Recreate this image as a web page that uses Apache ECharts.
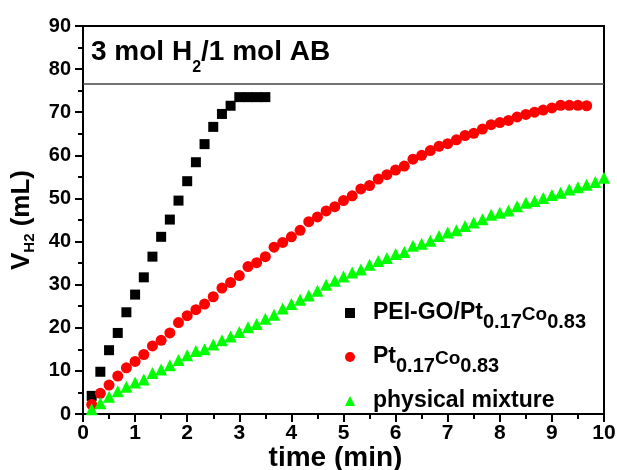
<!DOCTYPE html>
<html>
<head>
<meta charset="utf-8">
<script src="https://cdn.jsdelivr.net/npm/echarts@6/dist/echarts.min.js"></script>
<style>
  html, body { margin: 0; padding: 0; background: #ffffff; }
  #chart { width: 617px; height: 470px; }
</style>
</head>
<body>
<div id="chart"></div>
<script>
// Hydrogen evolution from ammonia borane: time in minutes, one reading every 10 s
const timeMin = [
  0.167, 0.333, 0.5, 0.667, 0.833, 1.0, 1.167, 1.333, 1.5, 1.667,
  1.833, 2.0, 2.167, 2.333, 2.5, 2.667, 2.833, 3.0, 3.167, 3.333,
  3.5, 3.667, 3.833, 4.0, 4.167, 4.333, 4.5, 4.667, 4.833, 5.0,
  5.167, 5.333, 5.5, 5.667, 5.833, 6.0, 6.167, 6.333, 6.5, 6.667,
  6.833, 7.0, 7.167, 7.333, 7.5, 7.667, 7.833, 8.0, 8.167, 8.333,
  8.5, 8.667, 8.833, 9.0, 9.167, 9.333, 9.5, 9.667, 9.833, 10.0
];

// Gas volume (mL) for PEI-GO/Pt0.17Co0.83
const peiGoVolume = [
  4.2, 9.8, 14.8, 18.8, 23.6, 27.7, 31.7, 36.5, 41.1, 45.1,
  49.5, 54.0, 58.4, 62.6, 66.6, 69.6, 71.5, 73.5, 73.5, 73.5,
  73.5
];

// Gas volume (mL) for unsupported Pt0.17Co0.83
const ptCoVolume = [
  2.2, 4.8, 6.7, 8.8, 10.7, 12.2, 13.8, 15.8, 17.1, 18.8,
  21.2, 22.8, 24.2, 25.5, 27.2, 29.2, 30.5, 32.1, 34.2, 35.1,
  36.5, 38.7, 39.8, 41.1, 42.6, 44.6, 45.7, 47.1, 48.1, 49.5,
  50.6, 52.2, 53.0, 54.5, 55.5, 56.6, 57.5, 59.1, 60.0, 61.1,
  62.1, 62.7, 63.6, 64.6, 65.1, 66.1, 67.1, 67.6, 68.1, 68.9,
  69.5, 70.0, 70.5, 71.0, 71.6, 71.6, 71.6, 71.5
];

// Gas volume (mL) for the physical mixture
const mixtureVolume = [
  1.1, 2.5, 4.0, 5.3, 6.3, 7.3, 8.0, 9.5, 10.3, 11.3,
  12.5, 13.6, 14.6, 15.0, 16.1, 17.1, 18.0, 19.0, 20.1, 20.9,
  22.1, 23.0, 24.5, 25.5, 26.5, 27.5, 28.6, 30.0, 30.9, 31.9,
  32.8, 33.5, 34.6, 35.5, 36.2, 37.1, 37.6, 39.0, 39.5, 40.2,
  41.3, 42.1, 42.6, 43.6, 44.4, 45.2, 46.2, 46.7, 47.2, 48.2,
  49.0, 49.4, 50.1, 50.8, 51.3, 52.1, 52.6, 53.2, 53.8, 54.8
];

// Theoretical volume for 3 mol H2 per mol AB (mL)
const theoreticalVolume = 76.5;

const seriesNames = ['PEI-GO/Pt0.17Co0.83', 'Pt0.17Co0.83', 'physical mixture'];
const legendRich = {
  'PEI-GO/Pt0.17Co0.83': '{g| }{b|PEI-GO/Pt}{s|0.17}{c|Co}{s|0.83}',
  'Pt0.17Co0.83': '{g| }{b|Pt}{s|0.17}{c|Co}{s|0.83}',
  'physical mixture': '{g| }{b|physical mixture}'
};

const FONT = 'Liberation Sans, Arial, sans-serif';
const pairs = (xs, ys) => ys.map((v, i) => [xs[i], v]);

const chart = echarts.init(document.getElementById('chart'), null, { renderer: 'canvas' });

chart.setOption({
  animation: false,
  backgroundColor: '#ffffff',
  grid: {
    left: 83, right: 13, top: 26, bottom: 56,
    outerBoundsMode: 'none',
    show: true, borderColor: '#000', borderWidth: 2, backgroundColor: 'transparent'
  },
  xAxis: {
    type: 'value', min: 0, max: 10, interval: 1,
    name: 'time (min)', nameLocation: 'middle', nameGap: 30, nameMoveOverlap: false,
    nameTextStyle: { fontFamily: FONT, fontWeight: 'bold', fontSize: 28, color: '#000', padding: [0, 16, 0, 0] },
    axisLine: { lineStyle: { color: '#000', width: 2 } },
    axisTick: { show: true, inside: false, length: 8, lineStyle: { color: '#000', width: 2 } },
    minorTick: { show: true, splitNumber: 2, length: 5, lineStyle: { color: '#000', width: 2 } },
    axisLabel: { fontFamily: FONT, fontWeight: 'bold', fontSize: 21, color: '#000', margin: 9 },
    splitLine: { show: false }
  },
  yAxis: {
    type: 'value', min: 0, max: 90, interval: 10,
    name: '{v|V}{h|H2}{v| (mL)}', nameLocation: 'middle', nameGap: 44, nameMoveOverlap: false,
    nameTextStyle: {
      fontFamily: FONT, fontWeight: 'bold', fontSize: 26, color: '#000',
      rich: {
        v: { fontFamily: FONT, fontWeight: 'bold', fontSize: 26, color: '#000', lineHeight: 30, verticalAlign: 'top' },
        h: { fontFamily: FONT, fontWeight: 'bold', fontSize: 15, color: '#000', lineHeight: 15, verticalAlign: 'top', padding: [13, 0, 0, 0] }
      }
    },
    axisLine: { lineStyle: { color: '#000', width: 2 } },
    axisTick: { show: true, inside: false, length: 8, lineStyle: { color: '#000', width: 2 } },
    minorTick: { show: true, splitNumber: 2, length: 5, lineStyle: { color: '#000', width: 2 } },
    axisLabel: { fontFamily: FONT, fontWeight: 'bold', fontSize: 20, color: '#000', margin: 12 },
    splitLine: { show: false }
  },
  legend: {
    orient: 'vertical', left: 340, top: 290, itemGap: 7,
    itemWidth: 10, itemHeight: 10,
    data: [
      { name: seriesNames[0], icon: 'rect' },
      { name: seriesNames[1], icon: 'circle' },
      { name: seriesNames[2], icon: 'triangle' }
    ],
    formatter: name => legendRich[name],
    textStyle: {
      fontFamily: FONT, fontWeight: 'bold', fontSize: 23, color: '#000',
      rich: {
        g: { width: 13, lineHeight: 36, verticalAlign: 'top' },
        b: { fontFamily: FONT, fontWeight: 'bold', fontSize: 23, color: '#000', lineHeight: 24, verticalAlign: 'top', padding: [6, 0, 6, 0] },
        s: { fontFamily: FONT, fontWeight: 'bold', fontSize: 20, color: '#000', lineHeight: 19, verticalAlign: 'top', padding: [17, 0, 0, 0] },
        c: { fontFamily: FONT, fontWeight: 'bold', fontSize: 19, color: '#000', lineHeight: 18, verticalAlign: 'top', padding: [10, 0, 8, 0] }
      }
    }
  },
  graphic: [{
    type: 'text', left: 91, top: 38, z: 10,
    style: {
      text: '{m|3 mol H}{s|2}{m|/1 mol AB}',
      rich: {
        m: { fontFamily: FONT, fontWeight: 'bold', fontSize: 28, fill: '#000', lineHeight: 30, verticalAlign: 'top' },
        s: { fontFamily: FONT, fontWeight: 'bold', fontSize: 16, fill: '#000', lineHeight: 16, verticalAlign: 'top', padding: [22, 0, 0, 0] }
      }
    }
  }],
  series: [
    {
      name: seriesNames[0], type: 'scatter', symbol: 'rect', symbolSize: 10,
      itemStyle: { color: '#000000', opacity: 1 },
      data: pairs(timeMin, peiGoVolume),
      markLine: {
        silent: true, symbol: 'none', animation: false,
        label: { show: false },
        lineStyle: { color: '#444', width: 1.5, type: 'solid', opacity: 1 },
        data: [{ yAxis: theoreticalVolume }]
      }
    },
    {
      name: seriesNames[1], type: 'scatter', symbol: 'circle', symbolSize: 11,
      itemStyle: { color: '#ff0000', opacity: 1 },
      data: pairs(timeMin, ptCoVolume)
    },
    {
      name: seriesNames[2], type: 'scatter', symbol: 'triangle', symbolSize: 12,
      itemStyle: { color: '#00ff00', opacity: 1 },
      data: pairs(timeMin, mixtureVolume)
    }
  ]
});
</script>
</body>
</html>
